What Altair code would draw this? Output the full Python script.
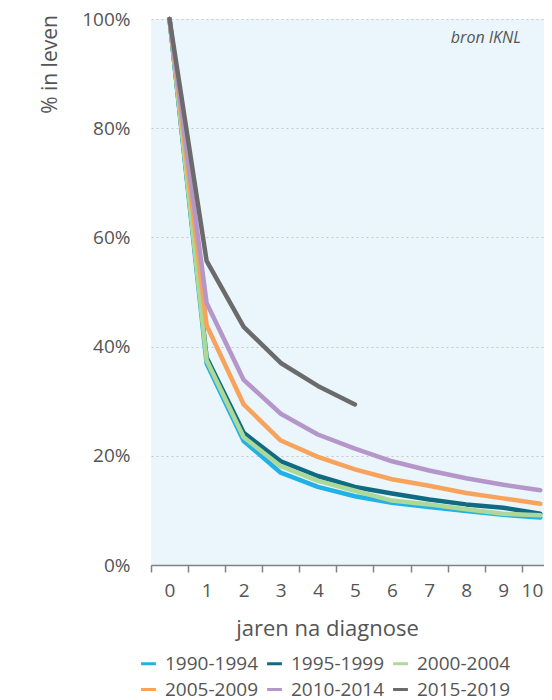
import altair as alt
import pandas as pd

years = list(range(11))
periods = ["1990-1994", "1995-1999", "2000-2004", "2005-2009", "2010-2014", "2015-2019"]
colors = ["#22b1e6", "#0f6a82", "#acd898", "#f7a35c", "#b497c8", "#6b6b6b"]

p1990 = [100, 36.9, 22.7, 16.9, 14.3, 12.6, 11.4, 10.6, 9.9, 9.2, 8.7]
p1995 = [100, 38.0, 24.2, 19.0, 16.3, 14.3, 13.1, 12.0, 11.1, 10.5, 9.4]
p2000 = [100, 37.5, 23.4, 18.1, 15.4, 13.6, 11.8, 11.1, 10.2, 9.4, 9.1]
p2005 = [100, 43.9, 29.4, 22.8, 19.8, 17.5, 15.7, 14.5, 13.2, 12.2, 11.2]
p2010 = [100, 48.0, 33.9, 27.7, 23.9, 21.3, 19.0, 17.3, 15.9, 14.7, 13.7]
p2015 = [100, 55.7, 43.6, 37.0, 32.8, 29.4]

y_ticks = [0, 20, 40, 60, 80, 100]
source_note = "bron IKNL"

series = [p1990, p1995, p2000, p2005, p2010, p2015]
rows = []
for name, vals in zip(periods, series):
    for yr, v in zip(years, vals):
        rows.append({"jaar": yr, "pct": v, "periode": name})
df = pd.DataFrame(rows)

W, H = 393, 546
x_dom = [-0.5, 10.1]
band = W / (x_dom[1] - x_dom[0])
FONT = "Open Sans"
TXT = "#555555"
last = years[-1]

lines = alt.Chart(df).mark_line(strokeWidth=4.5, strokeCap="round", strokeJoin="round").encode(
    x=alt.X("jaar:Q",
            scale=alt.Scale(domain=x_dom, nice=False, zero=False),
            axis=alt.Axis(values=years, format="d", title="jaren na diagnose",
                          tickOffset=-band / 2,
                          labelOffset={"condition": {"test": f"datum.value == {last}", "value": band / 2 + 2.5},
                                       "value": band / 2},
                          labelAlign={"condition": {"test": f"datum.value == {last}", "value": "right"},
                                      "value": "center"},
                          grid=False, domainColor="#7d8287", tickColor="#7d8287",
                          tickSize=7, tickWidth=1.5, domainWidth=1.5,
                          labelFontSize=19, labelColor=TXT, labelPadding=9,
                          titleFontSize=22, titleColor=TXT, titleFontWeight="normal",
                          titleX=176, titleY=63, titleAlign="center", titleBaseline="middle")),
    y=alt.Y("pct:Q",
            scale=alt.Scale(domain=[0, 100], nice=False),
            axis=alt.Axis(values=y_ticks, labelExpr="datum.value + '%'", title="% in leven",
                          domain=False, ticks=False, tickSize=0, labelPadding=21,
                          grid=True, gridDash=[2, 3], gridColor="#c8c8c8", gridWidth=1.2,
                          labelFontSize=19, labelColor=TXT,
                          titleFontSize=21, titleColor=TXT, titleFontWeight="normal",
                          titleAngle=270, titleX=-101, titleY=45,
                          titleAlign="center", titleBaseline="middle")),
    color=alt.Color("periode:N",
                    scale=alt.Scale(domain=periods, range=colors),
                    legend=alt.Legend(title=None, orient="none", legendX=-12, legendY=635,
                                      columns=3, direction="horizontal",
                                      symbolType="stroke", symbolStrokeWidth=3, symbolSize=220,
                                      labelFontSize=19, labelColor=TXT, labelOffset=7,
                                      columnPadding=2, rowPadding=6, padding=0)),
    order=alt.Order("periode:N"),
)

note = alt.Chart(pd.DataFrame({"t": [source_note]})).mark_text(
    align="right", baseline="middle", fontStyle="italic", fontSize=16, color=TXT, font=FONT
).encode(x=alt.value(370), y=alt.value(19), text="t:N")

chart = alt.layer(lines, note).properties(
    width=W, height=H,
    autosize=alt.AutoSizeParams(type="none"),
    padding={"left": 143, "top": 11, "right": 0, "bottom": 135},
).configure(font=FONT).configure_view(fill="#eaf5fc", stroke=None)

chart.save("out.html", embed_options={"renderer": "svg", "actions": False})
